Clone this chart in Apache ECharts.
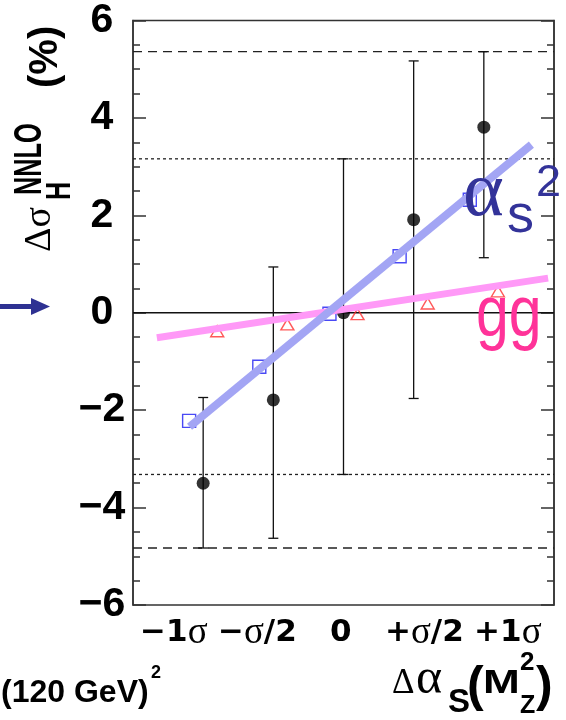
<!DOCTYPE html>
<html>
<head>
<meta charset="utf-8">
<script src="https://cdn.jsdelivr.net/npm/echarts@6/dist/echarts.min.js"></script>
<style>
  html, body { margin: 0; padding: 0; background: #fff; }
  #chart { width: 566px; height: 720px; }
</style>
</head>
<body>
<div id="chart"></div>
<script>
// Shift of alpha_s(M_Z^2), in units of its uncertainty sigma
const shifts = [-1, -0.5, 0, 0.5, 1];
const shiftLabels = ['\u22121\u03c3', '\u2212\u03c3/2', '0', '+\u03c3/2', '+1\u03c3'];

// Full NNLO cross-section change (%) with its uncertainty
const nnloCentral = [-3.50, -1.79, 0.00, 1.91, 3.81];
const nnloHigh    = [-1.74, 0.94, 3.16, 5.17, 5.36];
const nnloLow     = [-4.83, -4.63, -3.32, -1.76, 1.13];

// alpha_s^2 scaling (open squares) and gg luminosity (open triangles)
const alphaS2Shift = [-2.22, -1.11, -0.02, 1.16, 2.32];
const ggShift      = [-0.38, -0.24, -0.03, 0.19, 0.44];
const squareOffset = -0.1;
const triangleOffset = 0.1;

// Straight-line fits through the two sets of points
const alphaS2Fit = [[-1.097, -2.34], [1.339, 3.45]];
const ggFit      = [[-1.33, -0.515], [1.458, 0.711]];

// Horizontal reference levels
const outerLevels = [5.36, -4.83];
const innerLevels = [3.16, -3.32];

// Axis ranges
const xMin = -1.5, xMax = 1.5;
const yMin = -6, yMax = 6, yStep = 2;

// Tick labels are spread a little wider than the points they name
const labelStretch = 1.19;
const labelShift = -0.019;

const chart = echarts.init(document.getElementById('chart'), null, { renderer: 'canvas' });

const SANS = 'Liberation Sans';
const SERIF = 'Liberation Serif';
const frameColor = '#333';
const UP = Math.PI / 2;

function toRich(s) {
  return s.split('\u03c3').map(p => p ? '{b|' + p + '}' : '').join('{g|\u03c3}');
}

function levelSeries(y, dash) {
  return {
    type: 'line', xAxisIndex: 0, yAxisIndex: 0,
    data: [[xMin, y], [xMax, y]],
    symbol: 'none', silent: true, z: 1,
    lineStyle: { color: '#222', width: 1.3, type: dash }
  };
}

function text(x, y, str, opts) {
  return Object.assign({
    type: 'text', x: x, y: y, z: 50,
    style: Object.assign({
      text: str, fill: '#000', align: 'left', verticalAlign: 'middle',
      fontFamily: SANS, fontSize: 30, fontWeight: 'normal'
    }, opts.style)
  }, opts.el || {});
}

function yAxisSpec(position, showLabels) {
  return {
    type: 'value', min: yMin, max: yMax, interval: yStep, position: position,
    axisLine: { show: true, onZero: false, lineStyle: { color: frameColor, width: 1.5 } },
    axisTick: { show: true, inside: true, length: 13, lineStyle: { color: frameColor, width: 1.5 } },
    minorTick: { show: true, splitNumber: 4, length: 7, lineStyle: { color: frameColor, width: 1.5 } },
    splitLine: { show: false },
    axisLabel: showLabels ? {
      formatter: v => String(v).replace('-', '\u2212'),
      fontFamily: SANS, fontWeight: 'bold', fontSize: 41, color: '#000',
      align: 'center', margin: 31, padding: [10, 0, 0, 0]
    } : { show: false }
  };
}

const option = {
  animation: false,
  backgroundColor: '#fff',
  grid: {
    left: 133, right: 12, top: 18, bottom: 115,
    show: true, borderColor: frameColor, borderWidth: 1.5, backgroundColor: 'transparent'
  },
  xAxis: [
    {
      type: 'value', min: xMin, max: xMax,
      axisLine: { show: false, onZero: false }, axisTick: { show: false },
      axisLabel: { show: false }, splitLine: { show: false }
    },
    {
      type: 'value', position: 'bottom',
      min: (xMin - labelShift) / labelStretch,
      max: (xMax - labelShift) / labelStretch,
      axisLine: { show: false, onZero: false }, axisTick: { show: false }, splitLine: { show: false },
      axisLabel: {
        customValues: shifts,
        margin: 28,
        verticalAlign: 'middle',
        formatter: v => {
          const i = shifts.indexOf(v);
          return i < 0 ? '' : toRich(shiftLabels[i]);
        },
        rich: {
          b: { fontFamily: 'DejaVu Sans', fontWeight: 'bold', fontSize: 31, color: '#000', lineHeight: 40 },
          g: { fontFamily: SERIF, fontWeight: 'normal', fontSize: 37, color: '#000', lineHeight: 40 }
        }
      }
    }
  ],
  yAxis: [yAxisSpec('left', true), yAxisSpec('right', false)],
  series: [
    // zero line
    {
      type: 'line', xAxisIndex: 0, yAxisIndex: 0,
      data: [[xMin, 0], [xMax, 0]], symbol: 'none', silent: true, z: 1,
      lineStyle: { color: '#111', width: 1.3 }
    },
    ...outerLevels.map(y => levelSeries(y, [9, 6])),
    ...innerLevels.map(y => levelSeries(y, [3, 3])),
    // uncertainty bars
    {
      type: 'custom', xAxisIndex: 0, yAxisIndex: 0, z: 2, silent: true,
      data: shifts.map((x, i) => [x, nnloLow[i], nnloHigh[i]]),
      encode: { x: 0, y: [1, 2] },
      renderItem: (params, api) => {
        const x = api.value(0);
        const lo = api.coord([x, api.value(1)]);
        const hi = api.coord([x, api.value(2)]);
        const w = 5;
        const st = { stroke: '#111', lineWidth: 1.3 };
        return {
          type: 'group',
          children: [
            { type: 'line', shape: { x1: lo[0], y1: lo[1], x2: hi[0], y2: hi[1] }, style: st },
            { type: 'line', shape: { x1: lo[0] - w, y1: lo[1], x2: lo[0] + w, y2: lo[1] }, style: st },
            { type: 'line', shape: { x1: hi[0] - w, y1: hi[1], x2: hi[0] + w, y2: hi[1] }, style: st }
          ]
        };
      }
    },
    // full NNLO points
    {
      type: 'scatter', xAxisIndex: 0, yAxisIndex: 0, z: 3,
      data: shifts.map((x, i) => [x, nnloCentral[i]]),
      symbol: 'circle', symbolSize: 13,
      itemStyle: { color: '#000' }
    },
    // alpha_s^2 scaling points
    {
      type: 'scatter', xAxisIndex: 0, yAxisIndex: 0, z: 3,
      data: shifts.map((x, i) => [x + squareOffset, alphaS2Shift[i]]),
      symbol: 'rect', symbolSize: 13,
      itemStyle: { color: 'rgba(255,255,255,0)', borderColor: '#1c1cf2', borderWidth: 1.4 }
    },
    // gg luminosity points
    {
      type: 'scatter', xAxisIndex: 0, yAxisIndex: 0, z: 3,
      data: shifts.map((x, i) => [x + triangleOffset, ggShift[i]]),
      symbol: 'triangle', symbolSize: [13, 11],
      itemStyle: { color: 'rgba(255,255,255,0)', borderColor: '#ff3030', borderWidth: 1.4 }
    },
    // fits
    {
      type: 'line', xAxisIndex: 0, yAxisIndex: 0, z: 4, silent: true,
      data: ggFit, symbol: 'none',
      lineStyle: { color: '#ff99f7', width: 7, cap: 'butt' }
    },
    {
      type: 'line', xAxisIndex: 0, yAxisIndex: 0, z: 5, silent: true,
      data: alphaS2Fit, symbol: 'none',
      lineStyle: { color: '#a3a5f4', width: 8, cap: 'butt' }
    }
  ],
  graphic: {
    elements: [
      // arrow marking the zero level
      { type: 'rect', shape: { x: 0, y: 304, width: 33, height: 5 }, style: { fill: '#2e3192' }, z: 50 },
      { type: 'polygon', shape: { points: [[31, 298], [50, 306.5], [31, 315]] }, style: { fill: '#2e3192' }, z: 50 },

      // vertical axis title, read bottom to top
      text(40.5, 252, '\u0394\u03c3', { style: { fontFamily: SERIF, fontSize: 38 }, el: { rotation: UP } }),
      text(60.5, 200, 'H', { style: { fontWeight: 'bold', fontSize: 35 }, el: { rotation: UP, scaleX: 0.72 } }),
      text(30, 195, 'NNLO', { style: { fontWeight: 'bold', fontSize: 39 }, el: { rotation: UP, scaleX: 0.65 } }),
      text(46, 88, '(%)', { style: { fontWeight: 'bold', fontSize: 40 }, el: { rotation: UP } }),

      // horizontal axis title
      text(392, 683.5, '\u0394', { style: { fontFamily: SERIF, fontSize: 35 } }),
      text(416, 679.5, '\u03b1', { style: { fontFamily: SERIF, fontSize: 50 } }),
      text(448, 702.5, 'S', { style: { fontWeight: 'bold', fontSize: 33 } }),
      text(467, 687.5, '(', { style: { fontWeight: 'bold', fontSize: 50 } }),
      text(483, 683.5, 'M', { style: { fontWeight: 'bold', fontSize: 34 }, el: { scaleX: 1.3 } }),
      text(520, 662.5, '2', { style: { fontWeight: 'bold', fontSize: 26 } }),
      text(520, 706, 'Z', { style: { fontWeight: 'bold', fontSize: 25 } }),
      text(536, 687.5, ')', { style: { fontWeight: 'bold', fontSize: 50 } }),

      // Higgs mass note
      text(1, 693, '(120 GeV)', { style: { fontWeight: 'bold', fontSize: 32 } }),
      text(151, 673, '2', { style: { fontWeight: 'bold', fontSize: 18 } }),

      // curve labels
      text(463, 195, '\u03b1', { style: { fontFamily: SERIF, fontSize: 78, fill: '#333399' } }),
      text(507, 217, 's', { style: { fontSize: 54, fill: '#333399' } }),
      text(536, 184, '2', { style: { fontSize: 45, fill: '#333399' } }),
      text(476, 316.5, 'gg', { style: { fontSize: 72, fill: '#ff3399' }, el: { scaleX: 0.82 } })
    ]
  }
};

chart.setOption(option);
</script>
</body>
</html>
